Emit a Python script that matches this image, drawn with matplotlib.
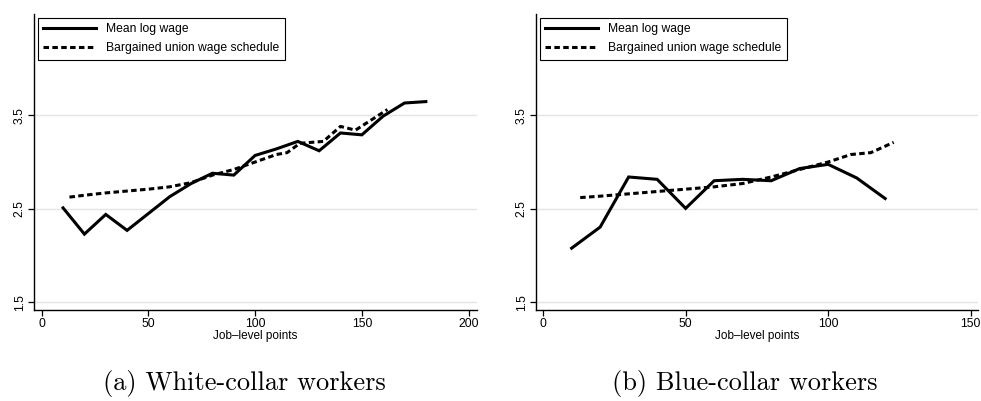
import matplotlib
matplotlib.use('Agg')
import matplotlib.pyplot as plt

# white-collar panel
wc_x = [10, 20, 30, 40, 50, 60, 70, 80, 90, 100, 110, 120, 130, 140, 150, 160, 170, 180]
wc_mean = [2.51, 2.23, 2.44, 2.27, 2.45, 2.63, 2.77, 2.88, 2.86, 3.07, 3.14, 3.22,
           3.12, 3.31, 3.29, 3.49, 3.63, 3.645]
wc_sched_x = [13, 20, 30, 40, 50, 60, 70, 80, 90, 100, 110, 115, 121, 132, 140, 147, 162]
wc_sched = [2.625, 2.645, 2.67, 2.69, 2.71, 2.735, 2.78, 2.86, 2.92, 3.0, 3.08, 3.10,
            3.20, 3.22, 3.38, 3.34, 3.56]

# blue-collar panel
bc_x = [10, 20, 30, 40, 50, 60, 70, 80, 90, 100, 110, 120]
bc_mean = [2.08, 2.305, 2.84, 2.815, 2.505, 2.80, 2.815, 2.80, 2.93, 2.975, 2.83, 2.61]
bc_sched_x = [13, 20, 30, 40, 50, 60, 70, 80, 90, 100, 108, 115, 123]
bc_sched = [2.62, 2.635, 2.66, 2.685, 2.71, 2.735, 2.77, 2.84, 2.92, 3.0, 3.08, 3.10, 3.21]

yticks = [1.5, 2.5, 3.5]
wc_xticks = [0, 50, 100, 150, 200]
bc_xticks = [0, 50, 100, 150]

sans = 'Liberation Sans'
fig = plt.figure(figsize=(9.81, 4.01), dpi=100)


def panel(rect, x, mean, sx, sched, xticks, xlim):
    ax = fig.add_axes(rect)
    ax.plot(x, mean, color='black', lw=2.2, label='Mean log wage', solid_joinstyle='miter')
    ax.plot(sx, sched, color='black', lw=2.2, ls=(0, (1.8, 1.1)),
            label='Bargained union wage schedule')
    ax.set_xlim(xlim)
    ax.set_ylim(1.42, 4.58)
    ax.set_yticks(yticks)
    ax.set_yticklabels([str(v) for v in yticks], rotation=90, va='center',
                       fontsize=8.8, family=sans)
    ax.set_xticks(xticks)
    ax.set_xticklabels([str(v) for v in xticks], fontsize=8.8, family=sans)
    ax.tick_params(direction='out', length=4, width=0.9, pad=2)
    ax.yaxis.grid(True, color='#e4e4e4', lw=1)
    ax.set_axisbelow(True)
    for s in ['top', 'right']:
        ax.spines[s].set_visible(False)
    for s in ['left', 'bottom']:
        ax.spines[s].set_linewidth(1.0)
    ax.set_xlabel('Job\u2013level points', fontsize=8.5, family=sans, labelpad=0)
    leg = ax.legend(loc='upper left', bbox_to_anchor=(0.008, 0.988), fancybox=False,
                    edgecolor='black', framealpha=1, prop={'family': sans, 'size': 8.7},
                    handlelength=4.4, handletextpad=0.8, borderpad=0.45,
                    labelspacing=0.6, borderaxespad=0)
    leg.get_frame().set_linewidth(0.8)
    return ax


panel([0.0347, 0.227, 0.4516, 0.738], wc_x, wc_mean, wc_sched_x, wc_sched,
      wc_xticks, (-3.6, 204))
panel([0.5464, 0.227, 0.4506, 0.738], bc_x, bc_mean, bc_sched_x, bc_sched,
      bc_xticks, (-2.5, 152.6))

fig.text(0.249, 0.043, '(a) White-collar workers', family='cmr10', fontsize=19,
         ha='center', va='center')
fig.text(0.759, 0.043, '(b) Blue-collar workers', family='cmr10', fontsize=19,
         ha='center', va='center')

fig.savefig('out.png', dpi=100)
